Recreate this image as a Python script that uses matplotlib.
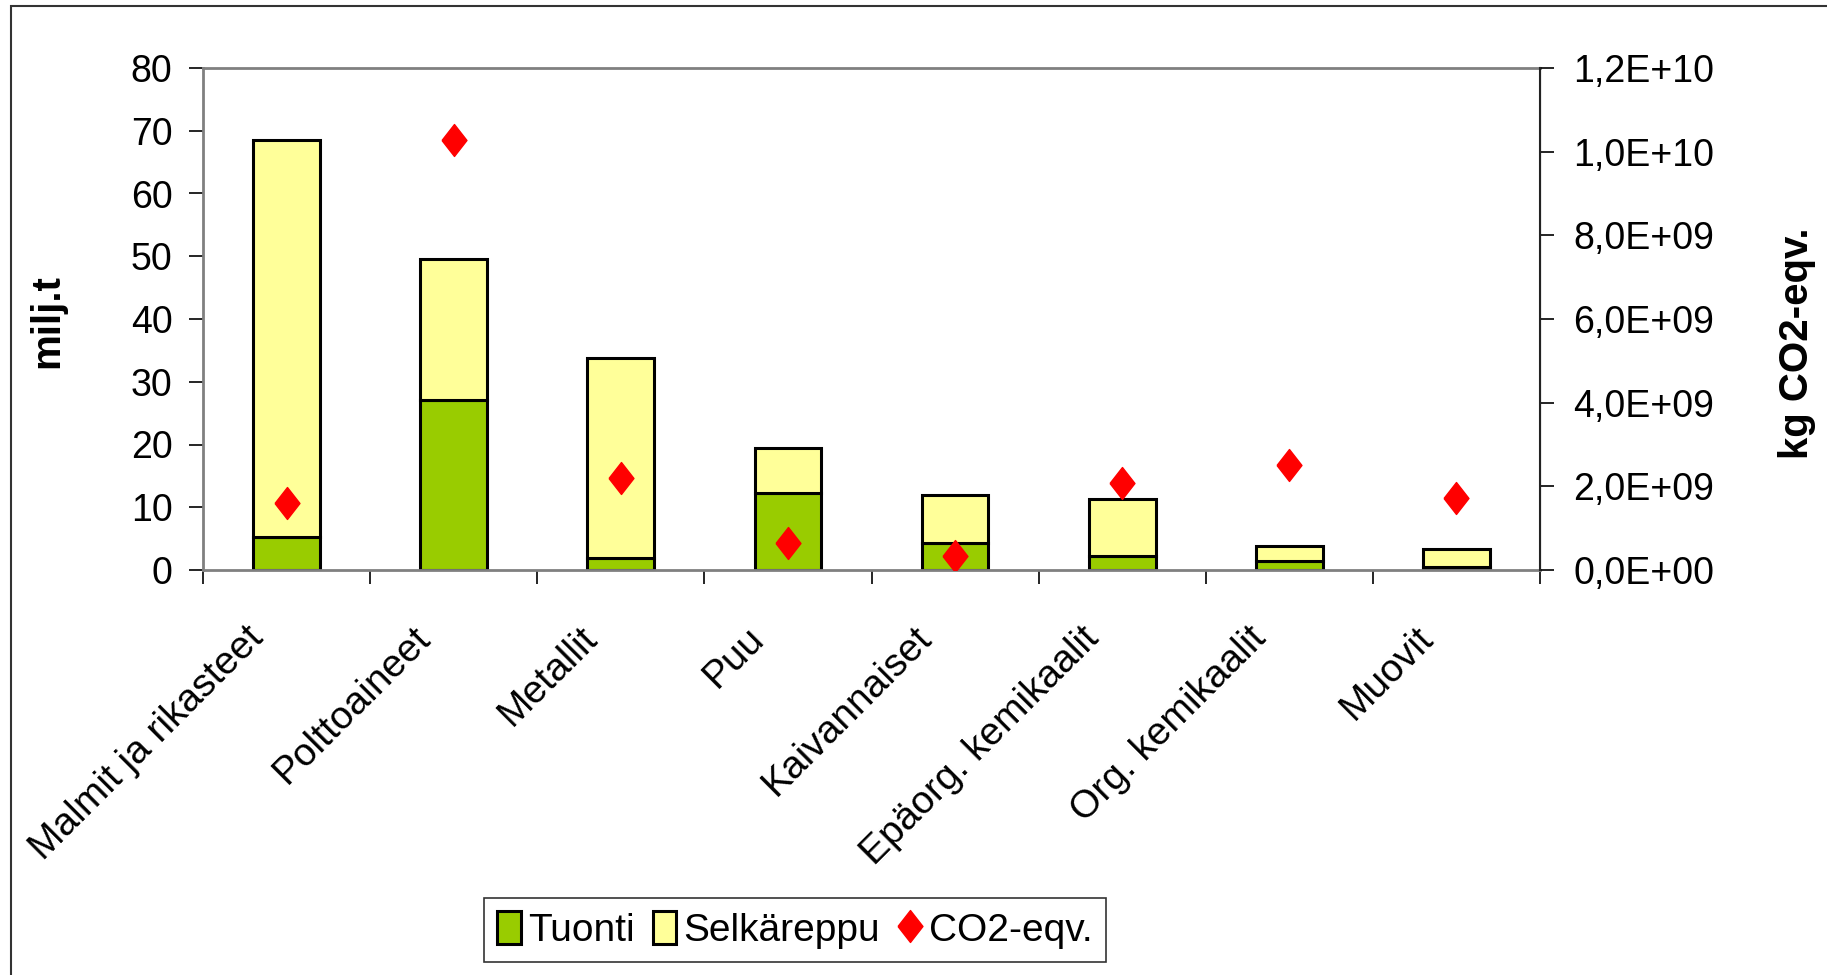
import matplotlib.pyplot as plt
from matplotlib.patches import Rectangle
from matplotlib.ticker import FuncFormatter, FixedLocator, NullFormatter
from matplotlib.transforms import ScaledTranslation

plt.rcParams["font.family"] = ["Liberation Sans", "DejaVu Sans"]

categories = ["Malmit ja rikasteet", "Polttoaineet", "Metallit", "Puu",
              "Kaivannaiset", "Epäorg. kemikaalit", "Org. kemikaalit", "Muovit"]
tuonti = [5.2, 27.1, 1.9, 12.3, 4.3, 2.2, 1.5, 0.4]
total = [68.5, 49.6, 33.8, 19.5, 11.9, 11.3, 3.9, 3.3]
selkareppu = [t - b for t, b in zip(total, tuonti)]
co2 = [1.59e9, 10.28e9, 2.2e9, 0.64e9, 0.33e9, 2.09e9, 2.51e9, 1.73e9]

GREEN = "#99CC00"
YELLOW = "#FFFF99"
RED = "#FF0000"
GREY = "#808080"
FS = 27

diamond = [(-0.78, 0), (0, 1), (0.78, 0), (0, -1), (-0.78, 0)]

fig = plt.figure(figsize=(18.27, 9.75), dpi=100)
ax = fig.add_axes([203 / 1827, 1 - 570 / 975, (1540 - 203) / 1827, (570 - 68) / 975])
ax2 = ax.twinx()

x = list(range(len(categories)))
b1 = ax.bar(x, tuonti, width=0.4, color=GREEN, edgecolor="black", linewidth=2.2, zorder=2)
b2 = ax.bar(x, selkareppu, bottom=tuonti, width=0.4, color=YELLOW, edgecolor="black",
            linewidth=2.2, zorder=2)
sc, = ax2.plot(x, co2, linestyle="none", marker=diamond, markersize=23,
               color=RED, markeredgecolor=RED, zorder=3)

ax.set_xlim(-0.5, len(categories) - 0.5)
ax.set_ylim(0, 80)
ax2.set_ylim(0, 1.2e10)
ax.set_yticks(range(0, 81, 10))
ax2.set_yticks([i * 2e9 for i in range(7)])
ax2.yaxis.set_major_formatter(FuncFormatter(lambda v, p: f"{v:.1E}".replace(".", ",")))

# category labels: rotated text placed under each category
ax.xaxis.set_major_locator(FixedLocator([i - 0.5 for i in range(len(categories) + 1)]))
ax.xaxis.set_major_formatter(NullFormatter())
ax.tick_params(axis="x", length=10, width=1.2, color="black")
shift = ScaledTranslation(-30 / 72, -36 / 72, fig.dpi_scale_trans)
for i, name in enumerate(categories):
    ax.text(i, 0, name, transform=ax.get_xaxis_transform() + shift, rotation=45,
            ha="right", va="top", rotation_mode="anchor", fontsize=28)

ax.tick_params(axis="y", labelsize=FS, length=10, width=1.2, pad=12)
ax2.tick_params(axis="y", labelsize=FS, length=10, width=1.2, pad=14)

for side in ["left", "top", "bottom"]:
    ax.spines[side].set_color(GREY)
    ax.spines[side].set_linewidth(2)
ax2.spines["right"].set_color("#222222")
ax2.spines["right"].set_linewidth(1.5)
for side in ["left", "top", "bottom"]:
    ax2.spines[side].set_visible(False)

ax.set_ylabel("milj.t", fontsize=29, fontweight="bold")
ax2.set_ylabel("kg CO2-eqv.", fontsize=29, fontweight="bold")
ax.yaxis.set_label_coords(47 / 1827, 1 - 321 / 975, transform=fig.transFigure)
ax2.yaxis.set_label_coords(1797 / 1827, 1 - 343 / 975, transform=fig.transFigure)
for lab in (ax.yaxis.label, ax2.yaxis.label):
    lab.set_va("center")
    lab.set_ha("center")

leg = fig.legend([b1, b2, sc], ["Tuonti", "Selkäreppu", "CO2-eqv."], loc="center",
                 bbox_to_anchor=(795 / 1827, 1 - 930 / 975), ncol=3, fontsize=28,
                 frameon=True, fancybox=False, edgecolor="black", handlelength=0.6,
                 handletextpad=0.2, columnspacing=0.45, borderpad=0.35, handleheight=0.9)
leg.get_frame().set_linewidth(1.2)

fig.patches.append(Rectangle((11 / 1827, -0.1), 1.2, 1.094, transform=fig.transFigure,
                             fill=False, edgecolor="#333333", linewidth=1.5))

fig.savefig("out.png", dpi=100)
